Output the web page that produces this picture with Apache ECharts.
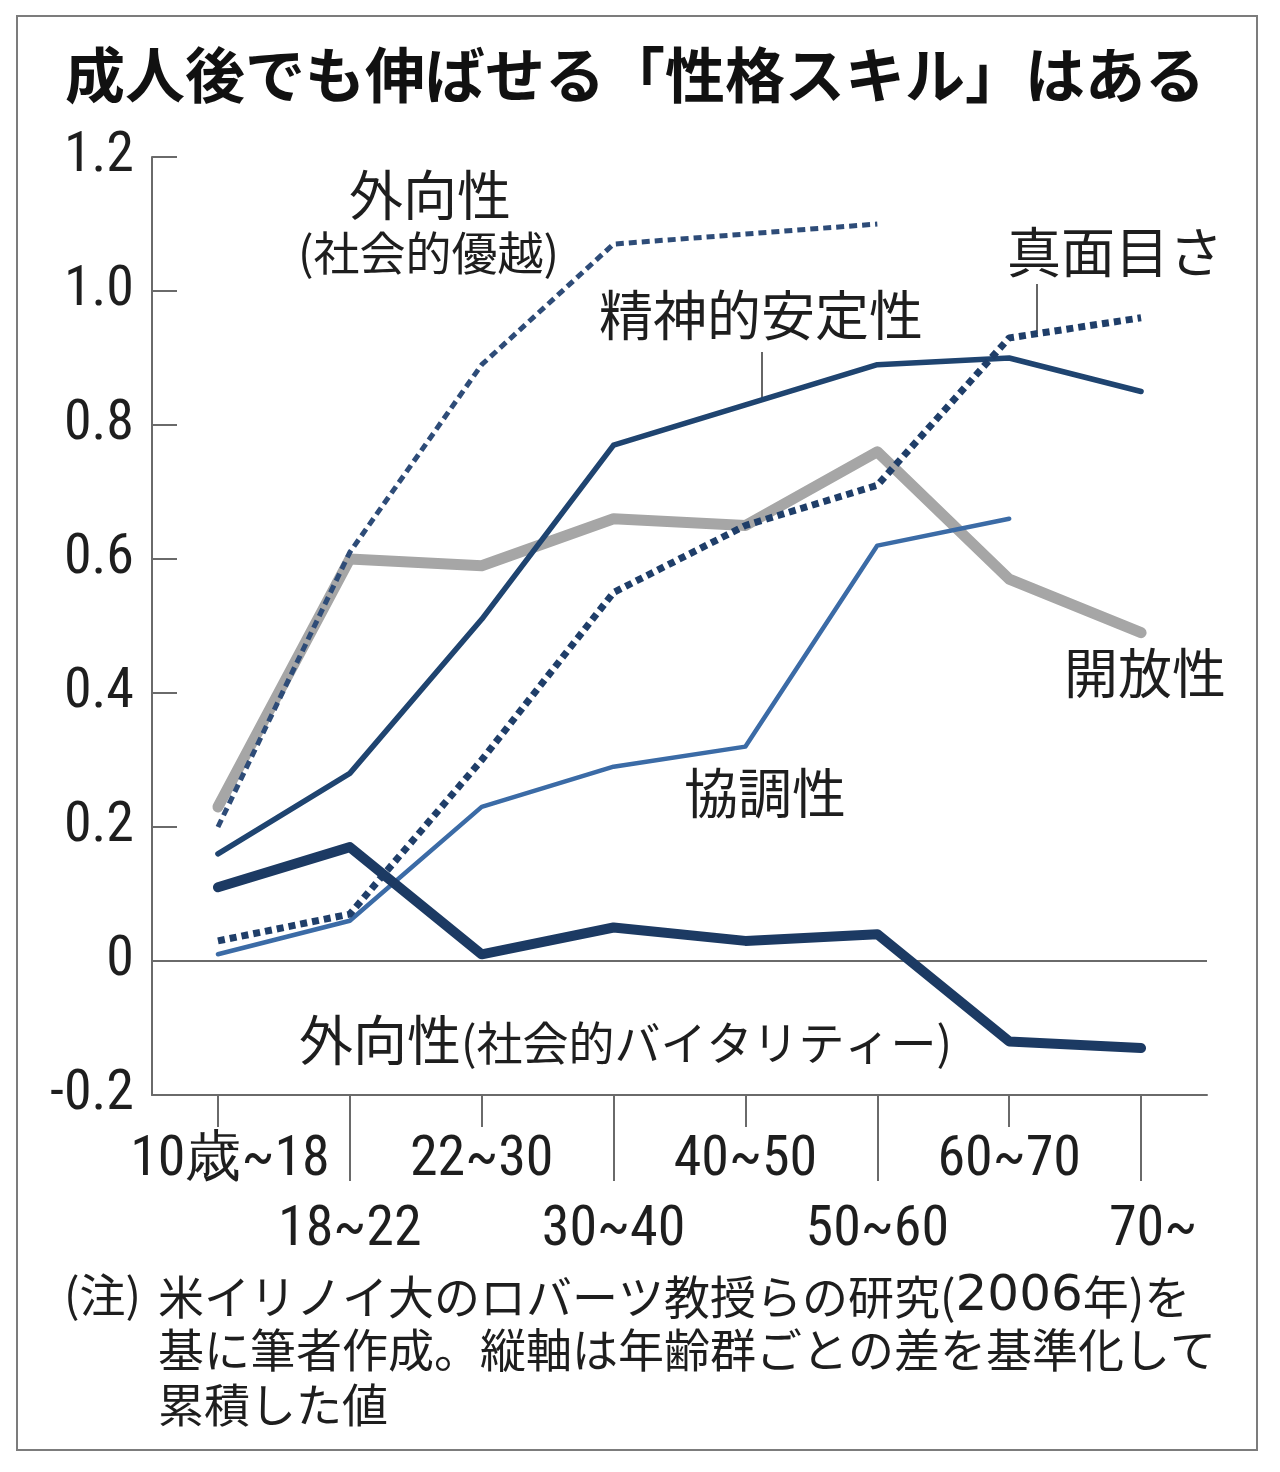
<!DOCTYPE html>
<html><head><meta charset="utf-8">
<script src="https://cdn.jsdelivr.net/npm/echarts@6/dist/echarts.min.js"></script>
<style>html,body{margin:0;padding:0;background:#fff}#c{width:1280px;height:1472px}</style>
</head><body><div id="c"></div>
<script>
// ---- data ----
const categories = ['10歳~18', '18~22', '22~30', '30~40', '40~50', '50~60', '60~70', '70~'];
const yMin = -0.2, yMax = 1.2, yStep = 0.2;
const extraversionDominance = [0.20, 0.61, 0.89, 1.07, 1.085, 1.10, null, null]; // 外向性(社会的優越)
const emotionalStability = [0.16, 0.28, 0.51, 0.77, 0.83, 0.89, 0.90, 0.85];       // 精神的安定性
const openness = [0.23, 0.60, 0.59, 0.66, 0.65, 0.76, 0.57, 0.49];                 // 開放性
const conscientiousness = [0.03, 0.07, 0.30, 0.55, 0.65, 0.71, 0.93, 0.96];        // 真面目さ
const agreeableness = [0.01, 0.06, 0.23, 0.29, 0.32, 0.62, 0.66, null];            // 協調性
const extraversionVitality = [0.11, 0.17, 0.01, 0.05, 0.03, 0.04, -0.12, -0.13];   // 外向性(社会的バイタリティー)
const titleText = '成人後でも伸ばせる「性格スキル」はある';
const noteLines = ['米イリノイ大のロバーツ教授らの研究({d|2006}年)を', '基に筆者作成。縦軸は年齢群ごとの差を基準化して', '累積した値'];

// ---- styles ----
const NARROW = "'Liberation Sans Narrow','Arial Narrow','Roboto Condensed','DejaVu Sans Condensed',sans-serif";
const JP = "'Noto Sans CJK JP','Noto Sans',sans-serif";
const AXIS = '#6a6a6a';
const TXT = '#1e1e1e';

const chart = echarts.init(document.getElementById('c'), null, {renderer: 'canvas'});

function xAxisDef(even, tickLen, margin) {
  const pick = (i) => (i % 2 === 0) === even;
  return {
    type: 'category', data: categories, boundaryGap: true, position: 'bottom',
    axisLine: {show: even, onZero: false, lineStyle: {color: AXIS, width: 2}},
    axisTick: {show: true, alignWithLabel: true, interval: pick, length: tickLen, lineStyle: {color: AXIS, width: 2}},
    axisLabel: {
      show: true, interval: pick, margin: margin,
      fontFamily: NARROW, fontSize: 56, color: TXT,
      formatter: (v, i) => (i === 0 || i === categories.length - 1) ? '{s|' + v + '}' : v,
      rich: {s: {fontFamily: NARROW, fontSize: 56, color: TXT, padding: [0, 0, 0, 24]}}
    },
    splitLine: {show: false}
  };
}

function lineSeries(name, data, color, width, type, z) {
  return {
    name, type: 'line', data, xAxisIndex: 0, symbol: 'none', showSymbol: false, connectNulls: false,
    lineStyle: {color, width, type: type, cap: type === 'solid' ? 'round' : 'butt', join: 'round'},
    z: z, silent: true, animation: false
  };
}

const labelStyle = (text, x, y, size) => ({
  type: 'text', left: x, top: y,
  style: {text, font: '400 ' + size + 'px ' + JP, fill: TXT,
    rich: {d: {fontFamily: "'DejaVu Sans',sans-serif", fontSize: 50, fill: TXT, color: TXT}}}
});

const option = {
  backgroundColor: '#fff',
  animation: false,
  title: {
    text: titleText, left: 60, top: 40,
    textStyle: {fontFamily: JP, fontWeight: 'bold', fontSize: 60, color: '#111'}
  },
  grid: {left: 152, right: 73, top: 157, bottom: 377, containLabel: false},
  xAxis: [xAxisDef(true, 32, 38), xAxisDef(false, 86, 108)],
  yAxis: {
    type: 'value', min: yMin, max: yMax, interval: yStep,
    axisLine: {show: true, lineStyle: {color: AXIS, width: 2}},
    axisTick: {show: true, inside: true, length: 25, lineStyle: {color: AXIS, width: 2}},
    axisLabel: {
      margin: 18, fontFamily: NARROW, fontSize: 56, color: TXT,
      formatter: (v) => Math.abs(v) < 1e-9 ? '0' : v.toFixed(1)
    },
    splitLine: {show: false}
  },
  series: [
    Object.assign(lineSeries('開放性', openness, '#a6a6a6', 11, 'solid', 2), {
      markLine: {silent: true, symbol: 'none', label: {show: false},
        lineStyle: {color: AXIS, width: 2, type: 'solid'}, data: [{yAxis: 0}], z: 1}
    }),
    lineSeries('協調性', agreeableness, '#3b6ba6', 4.5, 'solid', 3),
    lineSeries('精神的安定性', emotionalStability, '#1f4470', 5.5, 'solid', 4),
    lineSeries('真面目さ', conscientiousness, '#1f3e69', 7, [7, 5], 5),
    lineSeries('外向性(社会的優越)', extraversionDominance, '#2e4c78', 5, [8, 5], 6),
    lineSeries('外向性(社会的バイタリティー)', extraversionVitality, '#1c3a63', 10, 'solid', 7)
  ],
  graphic: [
    {type: 'rect', shape: {x: 17, y: 16, width: 1240, height: 1434},
      style: {fill: 'none', stroke: '#7c7c7c', lineWidth: 2}, z: 100},
    labelStyle('外向性', 349, 168, 54),
    labelStyle('(社会的優越)', 298, 230, 46),
    labelStyle('精神的安定性', 599, 288, 54),
    {type: 'line', shape: {x1: 762, y1: 352, x2: 762, y2: 399}, style: {stroke: '#333', lineWidth: 1.5}},
    labelStyle('真面目さ', 1007, 225, 54),
    {type: 'line', shape: {x1: 1037, y1: 284, x2: 1037, y2: 334}, style: {stroke: '#333', lineWidth: 1.5}},
    labelStyle('開放性', 1064, 646, 54),
    labelStyle('協調性', 684, 766, 54),
    labelStyle('外向性', 299, 1013, 54),
    labelStyle('(社会的バイタリティー)', 461, 1020, 46),
    labelStyle('(注)', 64, 1272, 46),
    labelStyle(noteLines[0], 158, 1272, 46),
    labelStyle(noteLines[1], 158, 1327, 46),
    labelStyle(noteLines[2], 158, 1382, 46)
  ]
};
chart.setOption(option);
</script></body></html>
